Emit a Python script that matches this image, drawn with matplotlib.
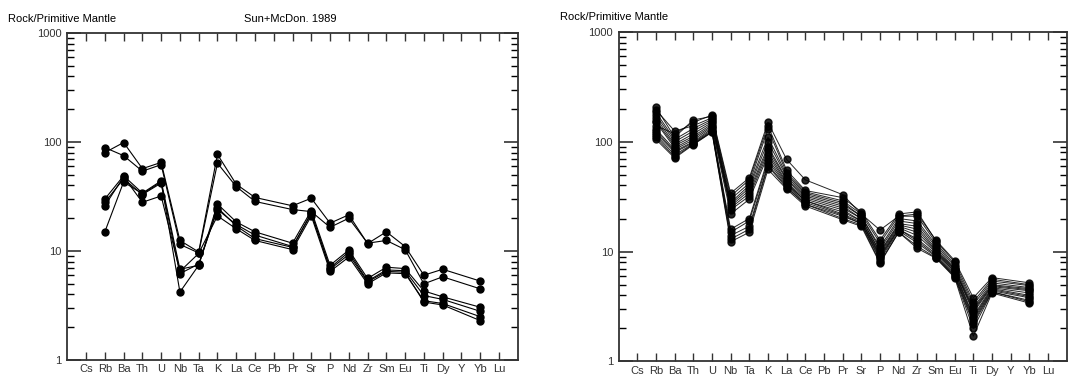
import numpy as np
import matplotlib.pyplot as plt
from matplotlib.ticker import LogLocator, NullFormatter, FixedLocator

plt.rcParams['font.family'] = ['Liberation Sans', 'DejaVu Sans']

elements = ['Cs', 'Rb', 'Ba', 'Th', 'U', 'Nb', 'Ta', 'K', 'La', 'Ce', 'Pb', 'Pr',
            'Sr', 'P', 'Nd', 'Zr', 'Sm', 'Eu', 'Ti', 'Dy', 'Y', 'Yb', 'Lu']

# elements that carry data (Cs, Pb, Y, Lu are not plotted)
used = ['Rb', 'Ba', 'Th', 'U', 'Nb', 'Ta', 'K', 'La', 'Ce', 'Pr', 'Sr', 'P',
        'Nd', 'Zr', 'Sm', 'Eu', 'Ti', 'Dy', 'Yb']

# left panel samples (Sun+McDon. 1989 normalised)
left_1 = [80, 99, 57, 65, 12.5, 9.8, 77, 41, 31, 26, 30.5, 18, 21.5, 11.7, 15, 11, 6.0, 6.8, 5.3]
left_2 = [89, 75, 54, 62, 11.5, 9.6, 64, 39, 28.5, 24, 23, 16.5, 20, 11.8, 12.5, 10.3, 5.0, 5.8, 4.5]
left_3 = [30, 49, 34, 44, 6.8, 7.4, 27, 18.5, 15, 11.8, 23.5, 7.4, 10.2, 5.6, 7.1, 6.9, 4.3, 3.8, 3.05]
left_4 = [28, 46, 33, 42, 6.2, 7.6, 24, 17.5, 14, 11, 22, 7.0, 9.8, 5.3, 6.7, 6.6, 3.9, 3.6, 2.8]
left_5 = [26, 48, 28, 32, 6.5, 9.5, 21, 16, 12.5, 10.3, 21, 6.5, 8.8, 5.0, 6.3, 6.2, 3.5, 3.3, 2.5]
left_6 = [15, 43, 33.5, 43, 4.2, 7.4, 25, 17, 13, 10.8, 22.5, 6.8, 9.3, 5.2, 6.5, 6.4, 3.4, 3.2, 2.3]
left_series = [left_1, left_2, left_3, left_4, left_5, left_6]

# right panel samples
right_1 = [140, 118, 150, 175, 34, 47, 150, 69, 45, 33, 22, 15.7, 21, 22, 12.7, 8.3, 3.8, 5.8, 5.2]
right_2 = [205, 110, 158, 170, 32, 45, 140, 55, 36, 31, 23, 12.7, 22, 23, 12.5, 8.0, 3.5, 5.6, 5.0]
right_3 = [195, 125, 140, 165, 30, 42, 130, 52, 35, 29, 22, 12, 21, 21, 12, 7.6, 3.3, 5.4, 4.9]
right_4 = [185, 105, 132, 160, 28, 40, 110, 50, 34, 28, 21, 11, 20, 19, 11.5, 7.3, 3.1, 5.2, 4.7]
right_5 = [175, 100, 125, 155, 27, 38, 100, 48, 33, 27, 21, 10.5, 19, 18, 11, 7.0, 3.0, 5.0, 4.6]
right_6 = [165, 95, 118, 150, 26, 36, 90, 46, 32, 26, 20, 10, 18, 17, 10.5, 6.9, 2.9, 4.9, 4.5]
right_7 = [155, 92, 112, 145, 25, 34, 85, 45, 31, 25, 20, 9.8, 17.5, 16, 10.2, 6.8, 2.8, 4.8, 4.4]
right_8 = [150, 88, 108, 140, 24, 32, 80, 43, 30, 24, 19, 9.5, 17, 15, 10, 6.6, 2.6, 4.7, 4.2]
right_9 = [130, 85, 104, 136, 22, 30, 75, 42, 29, 23, 19, 9.2, 16.5, 14, 9.8, 6.5, 2.5, 4.6, 4.0]
right_10 = [125, 82, 100, 132, 16, 20, 70, 41, 29, 22, 18.5, 9, 16, 13, 9.5, 6.3, 2.4, 4.5, 3.9]
right_11 = [120, 80, 98, 128, 15, 19, 66, 40, 28, 21.5, 18, 8.7, 16, 12.5, 9.2, 6.1, 2.3, 4.4, 3.8]
right_12 = [115, 76, 96, 125, 14, 17, 62, 39, 27, 21, 18, 8.4, 15.5, 12, 9, 6.0, 2.2, 4.3, 3.6]
right_13 = [110, 73, 95, 123, 13, 16, 60, 38, 27, 20, 17.5, 8, 15, 11.2, 8.8, 5.9, 2.0, 4.3, 3.5]
right_14 = [105, 71, 94, 122, 12.3, 15, 56, 37, 26, 19.5, 17, 7.8, 15, 10.7, 8.7, 5.8, 1.7, 4.2, 3.4]
right_series = [right_1, right_2, right_3, right_4, right_5, right_6, right_7,
                right_8, right_9, right_10, right_11, right_12, right_13, right_14]

x_all = np.arange(1, len(elements) + 1)
x_used = [elements.index(e) + 1 for e in used]

fig = plt.figure(figsize=(10.84, 3.78), dpi=100)
ax1 = fig.add_axes([0.0621, 0.0476, 0.4155, 0.865])
ax2 = fig.add_axes([0.5707, 0.0437, 0.4133, 0.872])


def style(ax):
    ax.set_yscale('log')
    ax.set_ylim(1, 1000)
    ax.set_xlim(0, 24)
    ax.xaxis.set_major_locator(FixedLocator(x_all))
    ax.set_xticklabels(elements, fontsize=8, color='#222222')
    ax.yaxis.set_minor_locator(LogLocator(base=10, subs=np.arange(2, 10)))
    ax.yaxis.set_minor_formatter(NullFormatter())
    ax.set_yticks([1, 10, 100, 1000])
    ax.set_yticklabels(['1', '10', '100', '1000'], fontsize=8, color='#222222')
    ax.tick_params(axis='y', which='major', direction='in', length=10, width=1.2,
                   left=True, right=True, pad=4)
    ax.tick_params(axis='y', which='minor', direction='in', length=5, width=1.0,
                   left=True, right=True)
    ax.tick_params(axis='x', which='major', direction='in', length=6, width=1.0,
                   top=True, bottom=True, pad=3)
    ax.tick_params(colors='#333333')
    for s in ax.spines.values():
        s.set_linewidth(1.3)
        s.set_color('#333333')


for ys in left_series:
    ax1.plot(x_used, ys, '-o', color='black', lw=0.8, ms=5)
for ys in right_series:
    ax2.plot(x_used, ys, '-o', color='black', lw=0.7, ms=5, alpha=0.85)

style(ax1)
style(ax2)

fig.text(8 / 1084, 1 - 19 / 378, 'Rock/Primitive Mantle', fontsize=8, va='center', ha='left')
fig.text(290 / 1084, 1 - 19 / 378, 'Sun+McDon. 1989', fontsize=8, va='center', ha='center')
fig.text(560 / 1084, 1 - 17 / 378, 'Rock/Primitive Mantle', fontsize=8, va='center', ha='left')

plt.savefig('out.png', dpi=100)
